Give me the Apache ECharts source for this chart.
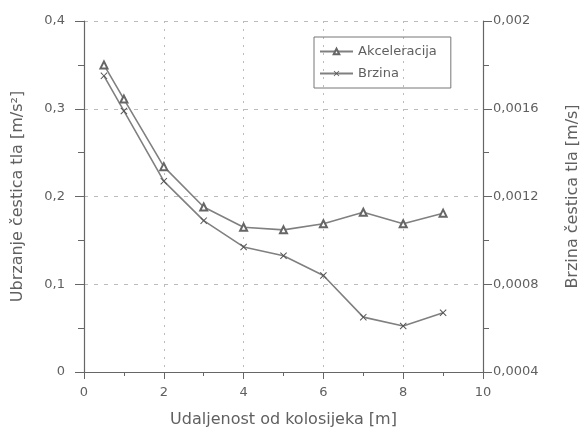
<!DOCTYPE html>
<html><head><meta charset="utf-8">
<script src="https://cdn.jsdelivr.net/npm/echarts@6/dist/echarts.min.js"></script>
<style>html,body{margin:0;padding:0;background:#fff}#c{width:582px;height:437px}</style>
</head><body><div id="c"></div>
<script>
const distances = [0.5, 1, 2, 3, 4, 5, 6, 7, 8, 9];
const akceleracija = [0.350, 0.311, 0.234, 0.188, 0.165, 0.162, 0.169, 0.182, 0.169, 0.181];
const brzina = [0.00175, 0.00159, 0.00127, 0.00109, 0.00097, 0.00093, 0.00084, 0.00065, 0.00061, 0.00067];
const seriesNames = ['Akceleracija', 'Brzina'];
const xAxisName = 'Udaljenost od kolosijeka [m]';
const yLeftName = 'Ubrzanje čestica tla [m/s²]';
const yRightName = 'Brzina čestica tla [m/s]';

const FONT = 'DejaVu Sans';
const TXT = '#606060';
const AX = '#666';
const comma = v => String(+v.toFixed(6)).replace('.', ',');
const crossPath = 'path://M0,1L1,0L5,4L9,0L10,1L6,5L10,9L9,10L5,6L1,10L0,9L4,5Z';

const chart = echarts.init(document.getElementById('c'), null, {renderer: 'canvas'});
chart.setOption({
  animation: false,
  textStyle: {fontFamily: FONT, color: TXT},
  grid: {left: 84, right: 99, top: 21, bottom: 65, containLabel: false, outerBoundsMode: 'none'},
  legend: {
    orient: 'vertical', left: 314, top: 37,
    borderColor: '#777', borderWidth: 1, padding: [8, 14, 8, 5],
    itemWidth: 33, itemHeight: 7, itemGap: 9,
    textStyle: {fontFamily: FONT, fontSize: 13, color: TXT},
    data: seriesNames
  },
  xAxis: {
    type: 'value', min: 0, max: 10, interval: 2,
    name: xAxisName, nameLocation: 'middle', nameGap: 40,
    nameTextStyle: {fontFamily: FONT, fontSize: 16, color: TXT},
    axisLine: {lineStyle: {color: AX, width: 1.2}},
    axisTick: {length: 7, lineStyle: {color: AX}},
    minorTick: {show: true, splitNumber: 2, length: 4, lineStyle: {color: AX}},
    axisLabel: {margin: 14, fontSize: 13, color: TXT, formatter: v => comma(v)},
    splitLine: {show: true, lineStyle: {type: [2, 6], color: '#bbb'}}
  },
  yAxis: [{
    type: 'value', min: 0, max: 0.4, interval: 0.1,
    name: yLeftName, nameLocation: 'middle', nameGap: 58, nameRotate: 90,
    nameTextStyle: {fontFamily: FONT, fontSize: 16, color: TXT},
    axisLine: {show: true, lineStyle: {color: AX, width: 1.2}},
    axisTick: {show: true, length: 9, lineStyle: {color: AX}},
    minorTick: {show: true, splitNumber: 2, length: 6, lineStyle: {color: AX}},
    axisLabel: {margin: 19, fontSize: 13, color: TXT, formatter: v => comma(v)},
    splitLine: {show: true, lineStyle: {type: [4, 6], color: '#bbb'}}
  }, {
    type: 'value', min: 0.0004, max: 0.002, interval: 0.0004, position: 'right',
    name: yRightName, nameLocation: 'middle', nameGap: 82, nameRotate: 90,
    nameTextStyle: {fontFamily: FONT, fontSize: 16, color: TXT},
    axisLine: {show: true, lineStyle: {color: AX, width: 1.2}},
    axisTick: {show: true, length: 9, lineStyle: {color: AX}},
    minorTick: {show: true, splitNumber: 2, length: 6, lineStyle: {color: AX}},
    axisLabel: {margin: 10, fontSize: 13, color: TXT, formatter: v => comma(v)},
    splitLine: {show: false}
  }],
  series: [{
    name: seriesNames[0], type: 'line', yAxisIndex: 0,
    data: distances.map((d, i) => [d, akceleracija[i]]),
    symbol: 'emptyTriangle', symbolSize: 7,
    lineStyle: {color: '#808080', width: 1.6},
    itemStyle: {color: '#666', borderColor: '#666', borderWidth: 1}
  }, {
    name: seriesNames[1], type: 'line', yAxisIndex: 1,
    data: distances.map((d, i) => [d, brzina[i]]),
    symbol: crossPath, symbolSize: 7,
    lineStyle: {color: '#808080', width: 1.6},
    itemStyle: {color: '#555'}
  }]
});
</script></body></html>
